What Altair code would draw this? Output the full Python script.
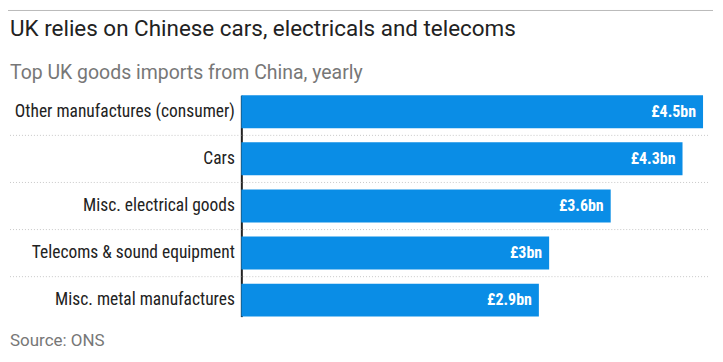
import altair as alt
import pandas as pd

categories = ["Other manufactures (consumer)", "Cars", "Misc. electrical goods",
              "Telecoms & sound equipment", "Misc. metal manufactures"]
values = [4.5, 4.3, 3.6, 3.0, 2.9]
labels = ["£4.5bn", "£4.3bn", "£3.6bn", "£3bn", "£2.9bn"]

title_text = "UK relies on Chinese cars, electricals and telecoms"
subtitle_text = "Top UK goods imports from China, yearly"
source_text = "Source: ONS"

df = pd.DataFrame({"cat": categories, "val": values, "lab": labels})
grid_df = pd.DataFrame({"cat": categories[1:]})
one_df = pd.DataFrame({"t": [0]})

COND = "Liberation Sans Narrow, Roboto Condensed, Liberation Sans, Arial, sans-serif"
BLUE = "#0a8de6"

yscale = alt.Scale(domain=categories, paddingInner=0.30, paddingOuter=0)
xscale = alt.Scale(domain=[0, 4.568], nice=False, zero=True)

bars = alt.Chart(df).mark_bar(color=BLUE).encode(
    y=alt.Y("cat:N", scale=yscale, sort=categories,
            axis=alt.Axis(title=None, ticks=False, domain=True, domainColor="#222",
                          domainWidth=2, labelFont=COND, labelFontSize=17.5,
                          labelColor="#222", labelPadding=7, labelLimit=300)),
    x=alt.X("val:Q", scale=xscale, axis=None),
)

text = alt.Chart(df).mark_text(align="right", baseline="middle", dx=-7, color="white",
                               font=COND, fontSize=16, fontWeight="bold").encode(
    y=alt.Y("cat:N", scale=yscale, sort=categories),
    x=alt.X("val:Q", scale=xscale),
    text="lab:N",
)

grid = alt.Chart(grid_df).mark_rule(color="#c8c8c8", strokeDash=[1, 2], strokeWidth=1).encode(
    y=alt.Y("cat:N", scale=yscale, sort=categories),
    yOffset=alt.value(-7),
    x=alt.value(-232), x2=alt.value(470),
)

topline = alt.Chart(one_df).mark_rule(color="#bbbbbb", strokeWidth=1).encode(
    y=alt.value(-85), x=alt.value(-234), x2=alt.value(473),
)

title = alt.Chart(one_df).mark_text(align="left", baseline="alphabetic", color="#222",
                                    font="Roboto", fontSize=22.5).encode(
    x=alt.value(-232), y=alt.value(-59), text=alt.value(title_text),
)

subtitle = alt.Chart(one_df).mark_text(align="left", baseline="alphabetic", color="#777",
                                       font="Roboto", fontSize=19.5).encode(
    x=alt.value(-232), y=alt.value(-16), text=alt.value(subtitle_text),
)

source = alt.Chart(one_df).mark_text(align="left", baseline="alphabetic", color="#777",
                                     font="Roboto", fontSize=17).encode(
    x=alt.value(-232), y=alt.value(251), text=alt.value(source_text),
)

chart = alt.layer(grid, bars, text, topline, title, subtitle, source).properties(
    width=470, height=222,
    autosize=alt.AutoSizeParams(type="none"),
    padding={"left": 234, "top": 87, "right": 5, "bottom": 40},
).configure_view(stroke=None)

chart.save("out.html", embed_options={"renderer": "svg", "actions": False})
